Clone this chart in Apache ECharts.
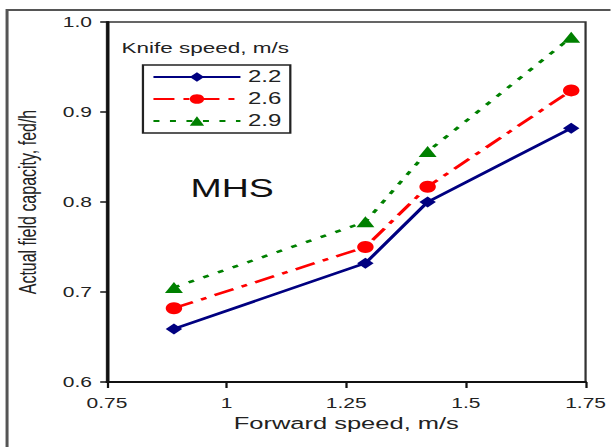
<!DOCTYPE html>
<html>
<head>
<meta charset="utf-8">
<script src="https://cdn.jsdelivr.net/npm/echarts@6/dist/echarts.min.js"></script>
<style>
  html, body { margin: 0; padding: 0; background: #fff; overflow: hidden; }
  /* the reference is a horizontally stretched figure, so draw narrow and stretch */
  #chart { width: 407.33px; height: 447px; transform: scaleX(1.5); transform-origin: 0 0; }
</style>
</head>
<body>
<div id="chart"></div>
<script>
var forwardSpeed = [0.89, 1.29, 1.42, 1.72];
var knife22 = [0.659, 0.732, 0.800, 0.882];
var knife26 = [0.682, 0.750, 0.817, 0.924];
var knife29 = [0.705, 0.778, 0.856, 0.983];
var seriesNames = ['2.2', '2.6', '2.9'];
var xTicks = [0.75, 1, 1.25, 1.5, 1.75];
var yTicks = [0.6, 0.7, 0.8, 0.9, 1.0];

function pairs(xs, ys) {
    var out = [];
    for (var i = 0; i < xs.length; i++) {
        out.push([xs[i], ys[i]]);
    }
    return out;
}

var font = '"Liberation Sans", Arial, sans-serif';
var textColor = '#222';

var chart = echarts.init(document.getElementById('chart'), null, { renderer: 'svg' });

var option = {
    animation: false,
    backgroundColor: '#fff',
    textStyle: { fontFamily: font },
    grid: {
        left: 71.3, right: 14.6, top: 22, bottom: 65,
        show: true, borderColor: '#333', borderWidth: 1.5,
        backgroundColor: 'transparent'
    },
    xAxis: {
        type: 'value',
        min: xTicks[0], max: xTicks[xTicks.length - 1], interval: 0.25,
        name: 'Forward speed, m/s',
        nameLocation: 'middle', nameGap: 27,
        nameTextStyle: { fontSize: 17, color: textColor, fontFamily: font },
        axisLine: { show: true, onZero: false, lineStyle: { color: '#111', width: 2 } },
        axisTick: { show: true, inside: false, length: 6, lineStyle: { color: '#111', width: 1.5 } },
        axisLabel: { fontSize: 14, color: textColor, margin: 14, fontFamily: font },
        splitLine: { show: false }
    },
    yAxis: {
        type: 'value',
        min: yTicks[0], max: yTicks[yTicks.length - 1], interval: 0.1,
        name: 'Actual field capacity, fed/h',
        nameLocation: 'middle', nameGap: 45,
        nameTextStyle: { fontSize: 16, color: textColor, fontFamily: font },
        axisLine: { show: true, onZero: false, lineStyle: { color: '#111', width: 2 } },
        axisTick: { show: true, inside: false, length: 4.5, lineStyle: { color: '#111', width: 1.5 } },
        axisLabel: {
            fontSize: 14, color: textColor, margin: 10, fontFamily: font,
            formatter: function(v) { return v.toFixed(1); }
        },
        splitLine: { show: false }
    },
    legend: {
        orient: 'vertical',
        left: 95.3, top: 65,
        padding: [3, 6, 3, 6],
        itemGap: 4,
        itemWidth: 58, itemHeight: 12,
        borderColor: '#222', borderWidth: 1.5,
        textStyle: { fontSize: 16, color: textColor, fontFamily: font, lineHeight: 18 },
        data: seriesNames
    },
    graphic: [
        {
            type: 'rect', silent: true, z: -10,
            shape: { x: 4.7, y: 10, width: 1000, height: 1000 },
            style: { fill: 'none', stroke: '#555', lineWidth: 2 }
        },
        {
            type: 'text', left: 81, top: 40,
            style: { text: 'Knife speed, m/s', font: '15px ' + font, fill: textColor }
        },
        {
            type: 'text', left: 127, top: 176,
            style: { text: 'MHS', font: '25px ' + font, fill: '#111' }
        }
    ],
    series: [
        {
            name: seriesNames[0], type: 'line',
            data: pairs(forwardSpeed, knife22),
            symbol: 'diamond', symbolSize: [11, 11],
            color: '#000080',
            lineStyle: { color: '#000080', width: 2.5, type: 'solid' },
            itemStyle: { color: '#000080' }
        },
        {
            name: seriesNames[1], type: 'line',
            data: pairs(forwardSpeed, knife26),
            symbol: 'circle', symbolSize: [11, 12],
            color: '#ff0000',
            lineStyle: { color: '#ff0000', width: 2.5, type: [14, 6, 4, 6] },
            itemStyle: { color: '#ff0000' }
        },
        {
            name: seriesNames[2], type: 'line',
            data: pairs(forwardSpeed, knife29),
            symbol: 'triangle', symbolSize: [12, 11],
            color: '#008000',
            lineStyle: { color: '#008000', width: 2.5, type: [4, 7] },
            itemStyle: { color: '#008000' }
        }
    ]
};

chart.setOption(option);
</script>
</body>
</html>
